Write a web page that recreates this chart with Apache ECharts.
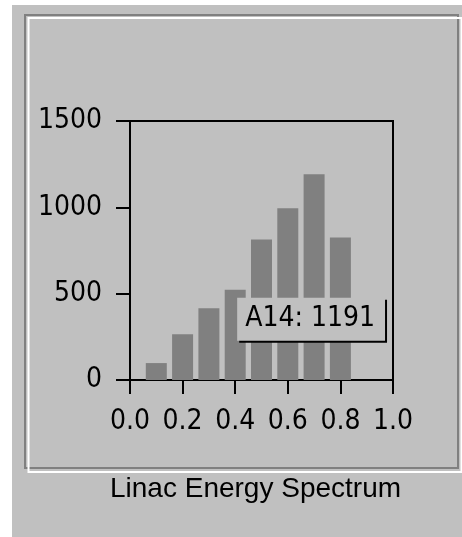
<!DOCTYPE html>
<html>
<head>
<meta charset="utf-8">
<style>
  html, body { margin: 0; padding: 0; background: #ffffff; }
  #chart { width: 462px; height: 537px; }
</style>
<script src="https://cdn.jsdelivr.net/npm/echarts@6/dist/echarts.min.js"></script>
</head>
<body>
<div id="chart"></div>
<script>
// ---- data ----
const binCenters = [0.1, 0.2, 0.3, 0.4, 0.5, 0.6, 0.7, 0.8];
const counts = [98, 265, 415, 522, 813, 994, 1191, 826];
const xTicks = ['0.0', '0.2', '0.4', '0.6', '0.8', '1.0'];
const yTicks = ['0', '500', '1000', '1500'];
const chartTitle = 'Linac Energy Spectrum';
const tipIndex = 6;
const tipName = 'A14';

const tickFont = '"DejaVu Sans Condensed", "Liberation Sans", sans-serif';
const tickSize = 28;

const chart = echarts.init(document.getElementById('chart'), null, { renderer: 'canvas' });

const seriesData = binCenters.map((x, i) => {
  const item = { value: [x, counts[i]] };
  if (i === tipIndex) {
    item.label = {
      show: true,
      position: 'inside',
      offset: [-3, 42],
      formatter: tipName + ': ' + counts[i],
      fontSize: tickSize,
      fontFamily: tickFont,
      color: '#000',
      backgroundColor: '#c0c0c0',
      padding: [8, 10, 7, 8],
      shadowColor: '#000',
      shadowOffsetX: 2,
      shadowOffsetY: 2,
      shadowBlur: 0
    };
  }
  return item;
});

const axisCommon = {
  axisLine: { show: true, onZero: false, lineStyle: { color: '#000', width: 2 } },
  axisTick: { show: true, inside: false, length: 14, lineStyle: { color: '#000', width: 2 } },
  splitLine: { show: false },
  axisLabel: { fontSize: tickSize, fontFamily: tickFont, color: '#000' }
};

chart.setOption({
  animation: false,
  backgroundColor: '#ffffff',
  title: {
    text: chartTitle,
    left: 110,
    top: 475,
    padding: 0,
    textStyle: { fontSize: 28, fontWeight: 'normal', fontFamily: '"Liberation Sans", Arial, sans-serif', color: '#000' }
  },
  graphic: [
    { type: 'rect', z: -10, silent: true, shape: { x: 12, y: 5, width: 450, height: 532 }, style: { fill: '#c0c0c0' } },
    { type: 'rect', z: -9, silent: true, shape: { x: 25, y: 15, width: 433, height: 453 }, style: { fill: null, stroke: '#808080', lineWidth: 2 } },
    { type: 'rect', z: -9, silent: true, shape: { x: 28.5, y: 18, width: 433, height: 454 }, style: { fill: null, stroke: '#ffffff', lineWidth: 2 } }
  ],
  grid: {
    left: 130, top: 121, width: 263, height: 259,
    show: true, borderColor: '#000', borderWidth: 2, backgroundColor: 'transparent'
  },
  xAxis: Object.assign({}, axisCommon, {
    type: 'value', min: 0, max: 1, interval: 0.2,
    axisLabel: Object.assign({}, axisCommon.axisLabel, {
      margin: 28,
      formatter: (v) => xTicks[Math.round(v / 0.2)]
    })
  }),
  yAxis: Object.assign({}, axisCommon, {
    type: 'value', min: 0, max: 1500, interval: 500,
    axisLabel: Object.assign({}, axisCommon.axisLabel, {
      margin: 28,
      formatter: (v) => yTicks[Math.round(v / 500)]
    })
  }),
  series: [{
    type: 'bar',
    barWidth: 21,
    data: seriesData,
    itemStyle: { color: '#808080' },
    label: { show: false },
    emphasis: { disabled: true }
  }]
});
</script>
</body>
</html>
